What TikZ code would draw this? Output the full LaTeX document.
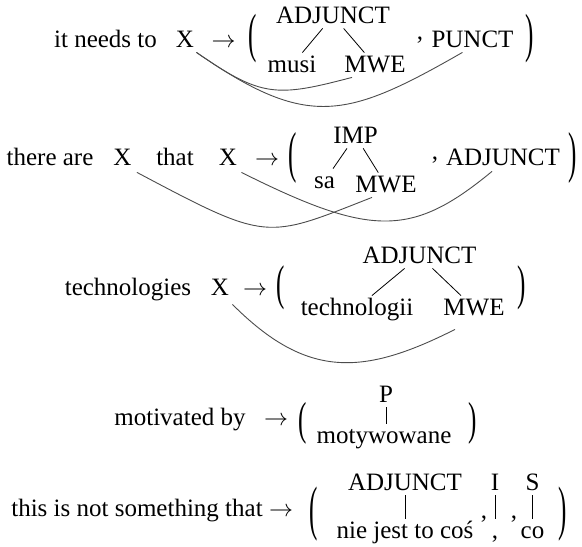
\documentclass[tikz,border=0pt]{standalone}
\usepackage{fontspec}
\setmainfont{Liberation Serif}
\usepackage{graphicx}

\begin{document}
\begin{tikzpicture}[x=0.5pt, y=-0.5pt, font=\fontsize{12.5}{15}\selectfont]
        \useasboundingbox (0,0) rectangle (582,546);
        \tikzstyle{word} = [inner sep=1pt, anchor=base, text height=0.85em, text depth=0.15em]
        \tikzstyle{paren} = [inner sep=0pt]
        \tikzstyle{branch} = [line width=0.4pt]
        \tikzstyle{link} = [line width=0.45pt, black!70]

        % Row 1.
        \node[word] (t1) at (105.5,47) {it needs to};
        \node[word] (x1) at (185,47) {X};
        \node[word] (r1) at (223.5,47) {$\rightarrow$};
        \node[paren] (lp1) at (253,38.5) {\scalebox{1}[2.15]{(}};
        \node[word] (adj1) at (333,23) {ADJUNCT};
        \node[word] (musi) at (292,72) {musi};
        \node[word] (mwe1) at (375,72) {MWE};
        \node[word] (c1) at (420,39) {,};
        \node[word] (punct) at (472.5,47) {PUNCT};
        \node[paren] (rp1) at (530,38.5) {\scalebox{1}[2.15]{)}};

        % Row 2.
        \node[word] (t2) at (50,165) {there are};
        \node[word] (x2) at (122.5,165) {X};
        \node[word] (that) at (175,165) {that};
        \node[word] (x3) at (228,165) {X};
        \node[word] (r2) at (267,165) {$\rightarrow$};
        \node[paren] (lp2) at (293,157.5) {\scalebox{1}[2.25]{(}};
        \node[word] (imp) at (355.5,143) {IMP};
        \node[word] (sa) at (324.5,188) {sa};
        \node[word] (mwe2) at (386,192) {MWE};
        \node[word] (c2) at (435,159) {,};
        \node[word] (adj2) at (503,165) {ADJUNCT};
        \node[paren] (rp2) at (573,157.5) {\scalebox{1}[2.25]{)}};

        % Row 3.
        \node[word] (t3) at (128,295) {technologies};
        \node[word] (x4) at (220,295) {X};
        \node[word] (r3) at (255,295) {$\rightarrow$};
        \node[paren] (lp3) at (281,287.5) {\scalebox{1}[1.95]{(}};
        \node[word] (adj3) at (419.5,263) {ADJUNCT};
        \node[word] (tech) at (357,315) {technologii};
        \node[word] (mwe3) at (474,315) {MWE};
        \node[paren] (rp3) at (522,287.5) {\scalebox{1}[1.95]{)}};

        % Row 4.
        \node[word] (t4) at (180,425) {motivated by};
        \node[word] (r4) at (276,425) {$\rightarrow$};
        \node[paren] (lp4) at (303,423) {\scalebox{1}[1.85]{(}};
        \node[word] (p) at (386,402) {P};
        \node[word] (moty) at (384,443) {motywowane};
        \node[paren] (rp4) at (473,423) {\scalebox{1}[1.85]{)}};

        % Row 5.
        \node[word] (t5) at (137,516) {this is not something that};
        \node[word] (r5) at (281,516) {$\rightarrow$};
        \node[paren] (lp5) at (313.5,514) {\scalebox{1}[2.4]{(}};
        \node[word] (adj5) at (405,490) {ADJUNCT};
        \node[word] (nie) at (405,538) {nie jest to coś};
        \node[word] (c5) at (484,518) {,};
        \node[word] (i5) at (495,490) {I};
        \node[word] (pct) at (495,538) {,};
        \node[word] (c6) at (514,518) {,};
        \node[word] (s5) at (532.5,490) {S};
        \node[word] (co) at (532.5,538) {co};
        \node[paren] (rp5) at (562.5,514) {\scalebox{1}[2.4]{)}};

        % Tree branches.
        \path[branch]
            (adj1) edge (musi)
            (adj1) edge (mwe1)
            (imp)  edge (sa)
            (imp)  edge (mwe2)
            (adj3) edge (tech)
            (adj3) edge (mwe3)
            (p)    edge (p |- moty.north)
            (adj5) edge (adj5 |- nie.north)
            (i5)   edge (i5 |- pct.north)
            (s5)   edge (s5 |- co.north);

        % Alignment arcs.
        \draw[link] (x1.south east) .. controls +(65,45) and +(-76,20) .. ([shift={(-23,0)}]mwe1.south);
        \draw[link] (x1.south east) .. controls +(111,77) and +(-117,67) .. ([shift={(-10,0)}]punct.south);
        \draw[link] ([shift={(3,2)}]x2.south east) .. controls +(132,70) and +(-107,42) .. ([shift={(-14,0)}]mwe2.south);
        \draw[link] ([shift={(2,2)}]x3.south east) .. controls +(130,65) and +(-80,66) .. ([shift={(-11,1)}]adj2.south);
        \draw[link] ([shift={(1,4)}]x4.south east) .. controls +(74,74) and +(-93,47) .. ([shift={(-19,9)}]mwe3.south);
\end{tikzpicture}
\end{document}
